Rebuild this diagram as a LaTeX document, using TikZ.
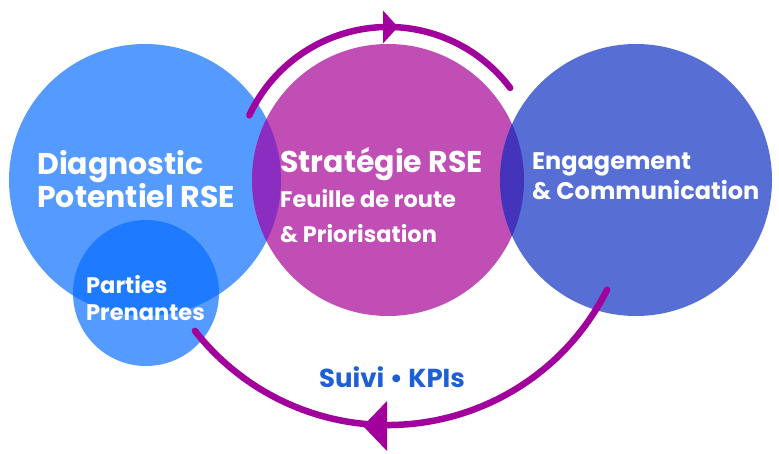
\documentclass[tikz,border=0pt]{standalone}
\usepackage{fontspec}
\setmainfont{Poppins}
\definecolor{cblue}{HTML}{559BFF}
\definecolor{cblueov}{HTML}{1E7BFF}
\definecolor{cmag}{HTML}{C04EB5}
\definecolor{covlm}{HTML}{8A2DC0}
\definecolor{cright}{HTML}{576FD4}
\definecolor{covmr}{HTML}{4433BB}
\definecolor{carc}{HTML}{A1009C}
\definecolor{ctxt}{HTML}{1F5FD6}
\begin{document}
\begin{tikzpicture}[x=1pt,y=1pt,
  disc/.style={circle,inner sep=0,minimum size=272pt},
  lbl/.style={text=white,inner sep=0,anchor=base west},
  big/.style={font=\fontsize{30}{30}\selectfont\bfseries},
  mid/.style={font=\fontsize{24}{24}\selectfont\bfseries},
  sml/.style={font=\fontsize{22.5}{22.5}\selectfont\bfseries},
  cyc/.style={draw=carc,line width=6.5pt,line cap=round}]
\useasboundingbox (0,0) rectangle (779,453);
\coordinate (cL) at (145,273);
\coordinate (cM) at (388,273);
\coordinate (cR) at (636,273);
\coordinate (cS) at (146,160);
% circles
\node[disc,fill=cblue] (L) at (cL) {};
\node[disc,fill=cmag] (M) at (cM) {};
\node[disc,fill=cright] (R) at (cR) {};
\node[circle,inner sep=0,minimum size=146pt,fill=cblue] (S) at (cS) {};
% overlaps
\begin{scope}
  \clip (cL) circle[radius=136];
  \fill[covlm] (cM) circle[radius=136];
  \fill[cblueov] (cS) circle[radius=73];
\end{scope}
\begin{scope}
  \clip (cM) circle[radius=136];
  \fill[covmr] (cR) circle[radius=136];
\end{scope}
% cycle arcs
\draw[cyc] (cM) ++(155:153) arc[start angle=155,end angle=37,radius=153];
\draw[cyc] (cM) ++(-26.6:245) arc[start angle=-26.6,end angle=-142,radius=245];
\coordinate (t1) at (398,426);
\coordinate (b1) at (363,27);
\fill[carc] (t1) -- ++(-15,16.5) -- ++(0,-33) -- cycle;
\fill[carc] (b1) -- ++(24,25) -- ++(0,-50) -- cycle;
% texts
\node[lbl,big] (d1) at (37,278) {Diagnostic};
\node[lbl,big] (d2) at (37,245) {Potentiel RSE};
\node[lbl,sml] (p1) at (86,160) {Parties};
\node[lbl,sml] (p2) at (86,133) {Prenantes};
\node[lbl,big] (s1) at (280,280) {Stratégie RSE};
\node[lbl,sml] (s2) at (280,245) {Feuille de route};
\node[lbl,sml] (s3) at (280,211) {\& Priorisation};
\node[lbl,mid] (e1) at (532,283) {Engagement};
\node[lbl,mid] (e2) at (532,253) {\& Communication};
\node[inner sep=0,anchor=base west,text=ctxt,font=\fontsize{26}{26}\selectfont\bfseries] (k) at (319,66) {Suivi • KPIs};
\end{tikzpicture}
\end{document}
